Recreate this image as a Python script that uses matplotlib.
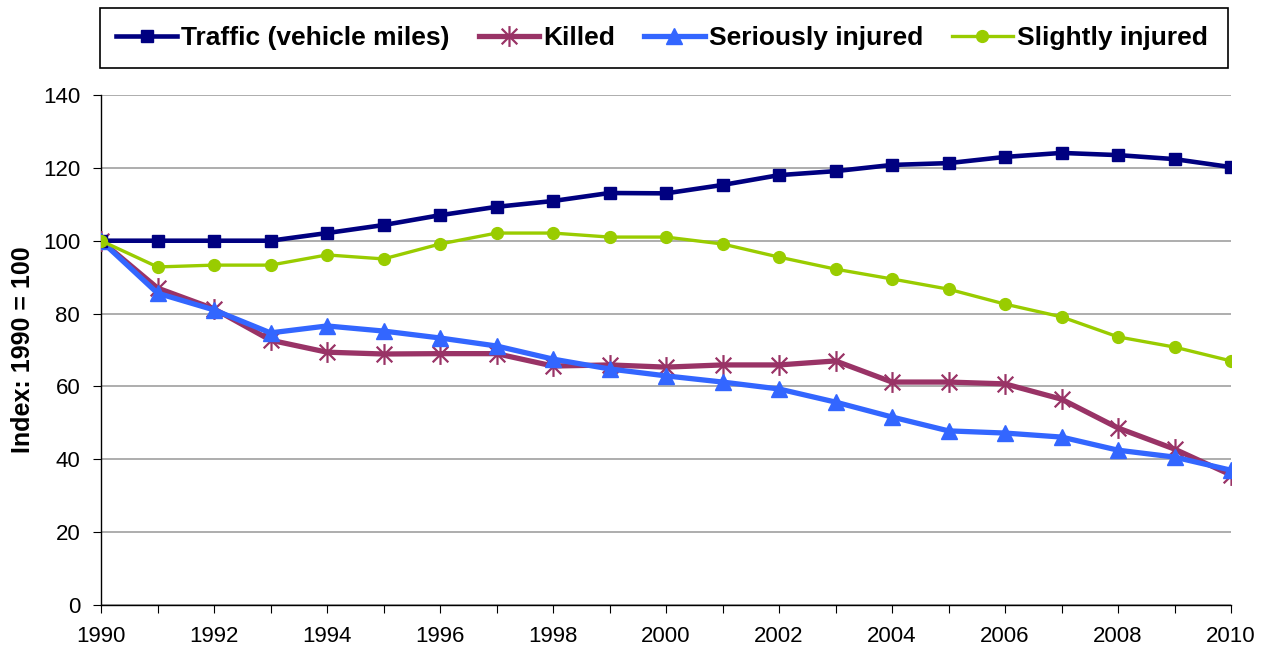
import matplotlib
matplotlib.use('Agg')
from matplotlib import pyplot as plt
from matplotlib.patches import Rectangle
from matplotlib.path import Path

plt.rcParams['font.family'] = ['Liberation Sans', 'DejaVu Sans']

years = list(range(1990, 2011))
traffic = [100, 100, 100, 100, 102.1, 104.3, 107, 109.3, 110.9, 113.1, 113,
           115.3, 118, 119.1, 120.8, 121.3, 123, 124.1, 123.5, 122.4, 120.2]
killed = [100, 87, 81.3, 72.7, 69.4, 68.9, 69, 69, 65.6, 65.9, 65.3,
          65.9, 65.9, 67, 61.2, 61.2, 60.7, 56.5, 48.6, 42.8, 35.7]
serious = [100, 85.6, 81, 74.7, 76.6, 75.2, 73.3, 71.1, 67.5, 64.8, 62.9,
           61.2, 59.3, 55.7, 51.6, 47.8, 47.2, 46.1, 42.5, 40.6, 37]
slight = [100, 92.8, 93.3, 93.3, 96.1, 95, 99.1, 102.1, 102.1, 101, 101,
          99.1, 95.5, 92.2, 89.5, 86.7, 82.6, 79.1, 73.6, 70.8, 67]

# excel style asterisk: vertical bar + x
star = Path([(0, -1), (0, 1), (-0.75, -0.75), (0.75, 0.75), (-0.75, 0.75), (0.75, -0.75)],
            [Path.MOVETO, Path.LINETO] * 3)

fig = plt.figure(figsize=(12.69, 6.51), dpi=100)
ax = fig.add_axes([101 / 1269, 1 - 605 / 651, 1130 / 1269, 510 / 651])

l1, = ax.plot(years, traffic, color='#000080', lw=3.3, marker='s', ms=9,
              label='Traffic (vehicle miles)', zorder=5)
l2, = ax.plot(years, killed, color='#993366', lw=3.8, marker=star, ms=15,
              mew=1.6, label='Killed', zorder=3)
l3, = ax.plot(years, serious, color='#3366FF', lw=3.8, marker='^', ms=12,
              label='Seriously injured', zorder=4)
l4, = ax.plot(years, slight, color='#99CC00', lw=2.4, marker='o', ms=8.5,
              label='Slightly injured', zorder=6)

ax.set_xlim(1990, 2010)
ax.set_ylim(0, 140)
ax.set_yticks(range(0, 141, 20))
ax.set_xticks(years)
ax.set_xticklabels([str(y) if y % 2 == 0 else '' for y in years])
ax.grid(axis='y', color='#a0a0a0', lw=1.2)
ax.set_axisbelow(True)
for s in ['top', 'right']:
    ax.spines[s].set_visible(False)
for s in ['left', 'bottom']:
    ax.spines[s].set_color('black')
    ax.spines[s].set_linewidth(1)
ax.tick_params(axis='both', direction='out', length=6, color='black',
               labelsize=16)
ax.tick_params(axis='y', pad=9)
ax.tick_params(axis='x', pad=9)
ax.set_ylabel('Index: 1990 = 100', fontsize=18, fontweight='bold', labelpad=6)
ax.spines['bottom'].set_zorder(10)

fig.patches.append(Rectangle((100 / 1269, 1 - 68 / 651), 1128 / 1269, 60 / 651,
                             transform=fig.transFigure, fill=False,
                             edgecolor='black', lw=1.2))
fig.legend(handles=[l1, l2, l3, l4], loc='center',
           bbox_to_anchor=(662 / 1269, 1 - 38 / 651), ncol=4, frameon=False,
           prop={'weight': 'bold', 'size': 19}, handlelength=2.3,
           handletextpad=0.15, columnspacing=1.1)

fig.savefig('out.png', dpi=100)
